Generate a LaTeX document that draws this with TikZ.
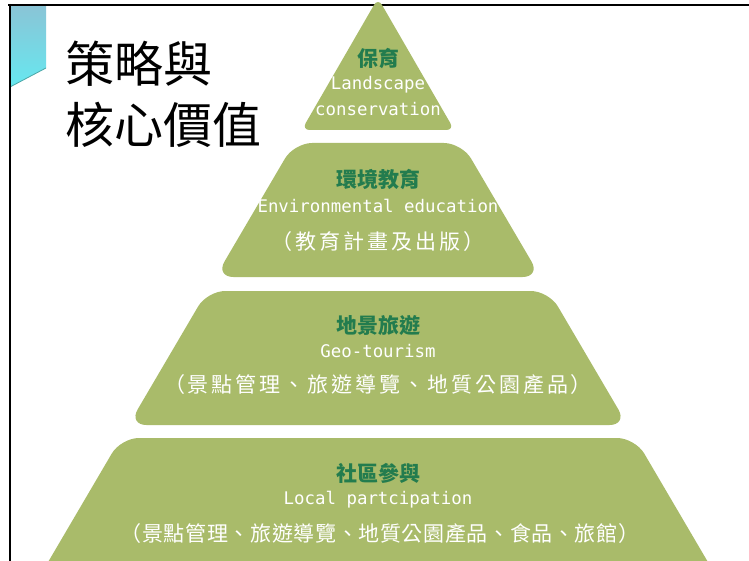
\documentclass[tikz,border=0pt]{standalone}
\usepackage{fontspec}
\newfontfamily\cjkfont{Noto Sans CJK TC}
\newfontfamily\subfont[LetterSpace=14]{Noto Sans CJK TC}
\newfontfamily\subfontB[LetterSpace=3]{Noto Sans CJK TC}
\newfontfamily\engfont{DejaVu Sans Mono}
\definecolor{layergreen}{RGB}{169,187,106}
\definecolor{headgreen}{RGB}{35,124,78}
\definecolor{topcyan}{RGB}{138,196,214}
\definecolor{lowcyan}{RGB}{102,232,240}

\begin{document}
\begin{tikzpicture}[x=1pt, y=-1pt,
  layer/.style={fill=layergreen, rounded corners=18pt},
  head/.style={text=headgreen, font=\cjkfont\bfseries\fontsize{21}{25}\selectfont},
  eng/.style={text=white, font=\engfont\fontsize{17.4}{20}\selectfont},
  sub/.style={text=white, font=\subfont\fontsize{21}{25}\selectfont},
  title/.style={anchor=west, font=\cjkfont\fontsize{49}{56}\selectfont}]
\clip (0,0) rectangle (749,561);
\fill[white] (0,0) rectangle (749,561);

% slide frame
\shade[top color=topcyan, bottom color=lowcyan] (10,5) -- (46,5) -- (46,68) -- (10,87) -- cycle;
\draw[teal!70, line width=0.8pt] (10,87) -- (46,68);
\draw[line width=2.5pt] (8,5) -- (749,5);
\draw[line width=2pt] (10,4) -- (10,561);

\node[title] (title1) at (62,64) {策略與};
\node[title] (title2) at (62,125) {核心價值};

% pyramid
\fill[layer, rounded corners=8pt] (378,-2) -- (454.3,130) -- (301.7,130) -- cycle;
\fill[layer] (294.1,143) -- (461.9,143) -- (540.6,277) -- (215.4,277) -- cycle;
\fill[layer] (207.2,291) -- (548.8,291) -- (627.5,425) -- (128.5,425) -- cycle;
\fill[layer] (120.9,438) -- (635.1,438) -- (730.2,600) -- (25.8,600) -- cycle;

\node[head] (cons) at (378,59) {保育};
\node[eng] (consEn) at (378,85) {Landscape};
\node[eng] (consEnB) at (378,109) {conservation};

\node[head] (edu) at (378,180) {環境教育};
\node[eng] (eduEn) at (378,206) {Environmental education};
\node[sub] (eduSub) at (378,242) {（教育計畫及出版）};

\node[head] (geo) at (378,325) {地景旅遊};
\node[eng] (geoEn) at (378,351) {Geo-tourism};
\node[sub] (geoSub) at (378,385) {（景點管理、旅遊導覽、地質公園產品）};

\node[head] (local) at (378,473) {社區參與};
\node[eng] (localEn) at (378,500) {Local partcipation};
\node[sub, font=\subfontB\fontsize{21}{25}\selectfont] (localSub) at (380,534) {（景點管理、旅遊導覽、地質公園產品、食品、旅館）};
\end{tikzpicture}
\end{document}
